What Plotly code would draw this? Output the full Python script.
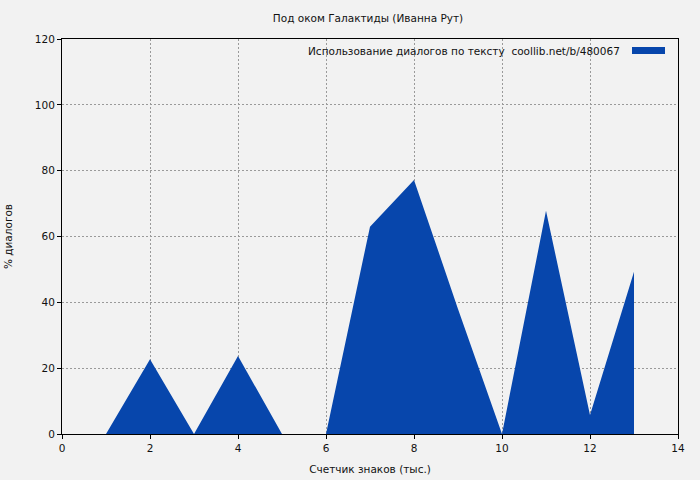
import plotly.graph_objects as go

x_thousands = [1, 2, 3, 4, 5, 6, 7, 8, 9, 10, 11, 12, 13]
dialog_pct = [0, 22.7, 0, 23.7, 0, 0, 63, 77.2, 38, 0, 67.8, 5.8, 49.3]

title_text = "Под оком Галактиды (Иванна Рут)"
legend_text = "Использование диалогов по тексту  coollib.net/b/480067"
x_title = "Счетчик знаков (тыс.)"
y_title = "% диалогов"

fill_color = "#0746AC"
font_family = "DejaVu Sans, sans-serif"
fs = 10.5
txt = "#111"

fig = go.Figure()
fig.add_trace(go.Scatter(
    x=x_thousands, y=dialog_pct, mode="lines", fill="tozeroy",
    fillcolor=fill_color, line=dict(width=0, color=fill_color),
    showlegend=False, hoverinfo="x+y",
))

axis_common = dict(
    showline=True, linecolor="black", linewidth=1, mirror=True,
    ticks="outside", ticklen=4, tickcolor="black", automargin=False,
    showgrid=True, gridcolor="#9a9a9a", griddash="2px,2px", gridwidth=1,
    zeroline=False, tickfont=dict(size=fs, color=txt, family=font_family),
)

fig.update_xaxes(range=[0, 14], tickvals=list(range(0, 15, 2)),
                 title=dict(text=x_title, font=dict(size=fs, color=txt, family=font_family), standoff=13),
                 **axis_common)
fig.update_yaxes(range=[0, 120], tickvals=list(range(0, 121, 20)),
                 title=dict(text=y_title, font=dict(size=fs, color=txt, family=font_family), standoff=20),
                 **axis_common)

fig.add_annotation(
    xref="paper", yref="paper", x=(622 - 62) / 616, y=1 - (50.5 - 39) / 395,
    xanchor="right", yanchor="middle", showarrow=False,
    text=legend_text, font=dict(size=fs, color=txt, family=font_family),
)
fig.add_shape(
    type="rect", xref="paper", yref="paper",
    x0=(632 - 62) / 616, x1=(665 - 62) / 616,
    y0=1 - (54 - 39) / 395, y1=1 - (47 - 39) / 395,
    fillcolor=fill_color, line=dict(width=0),
)

fig.update_layout(
    width=700, height=480,
    margin=dict(l=62, r=22, t=39, b=46),
    paper_bgcolor="#f2f2f2", plot_bgcolor="#f2f2f2",
    title=dict(text=title_text, x=368 / 700, xanchor="center", y=1 - 18 / 480, yanchor="middle",
               font=dict(size=fs, color=txt, family=font_family)),
    font=dict(family=font_family),
)

fig.write_html("out.html", config={"displayModeBar": False},
               post_script="document.body.style.margin='0';")
